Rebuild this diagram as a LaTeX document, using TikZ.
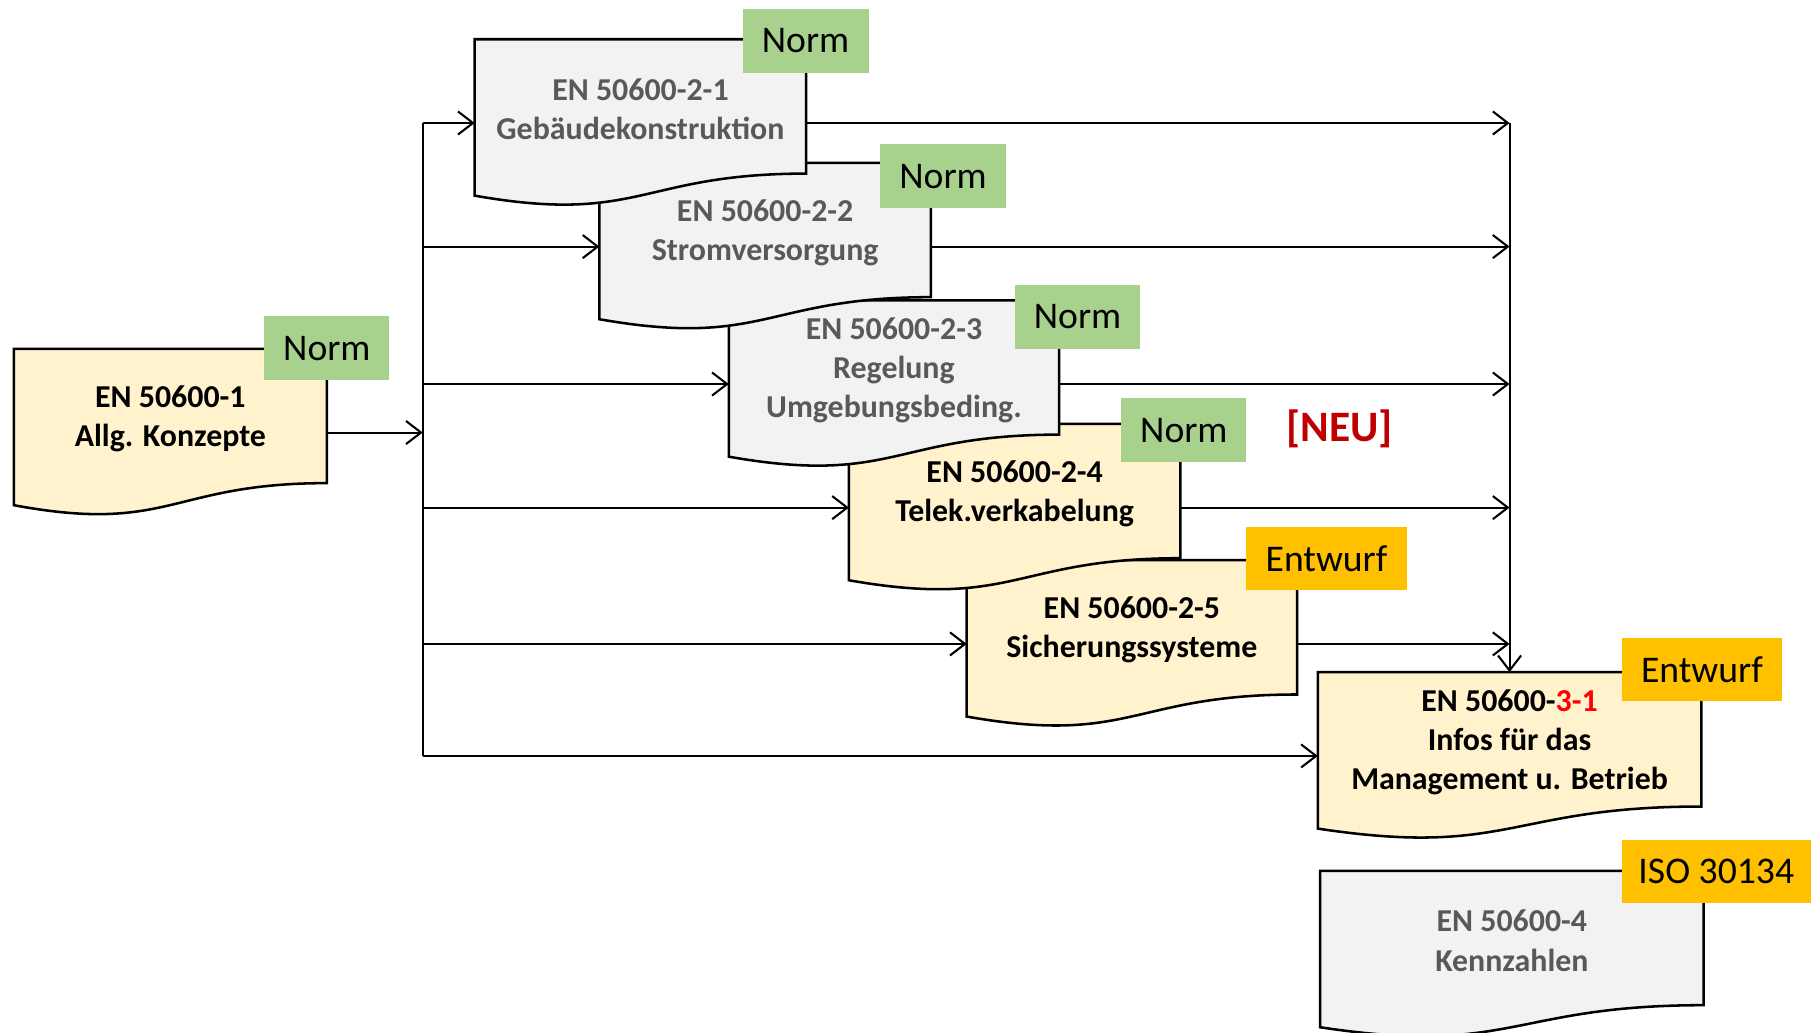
\documentclass[tikz,border=0pt]{standalone}
\usepackage{fontspec}
\setmainfont{Carlito}
\usetikzlibrary{arrows.meta}

\definecolor{docyellow}{HTML}{FFF2CC}
\definecolor{docgray}{HTML}{F2F2F2}
\definecolor{graytext}{HTML}{595959}
\definecolor{normgreen}{HTML}{A9D18E}
\definecolor{draftgold}{HTML}{FFC000}
\definecolor{newred}{HTML}{C00000}
\definecolor{partred}{HTML}{FF0000}

\tikzset{
  docframe/.style={inner sep=0pt, outer sep=0pt, minimum height=72.5pt},
  docline/.style={line width=1.1pt, draw=black, line join=miter},
  doctext/.style={align=center, inner sep=0pt,
    font=\bfseries\fontsize{13.8}{16.9}\selectfont},
  tag/.style={inner sep=0pt, outer sep=0pt, minimum height=27.5pt,
    font=\fontsize{16.3}{18}\selectfont},
  link/.style={line width=0.9pt, draw=black},
  flow/.style={link, -{Straight Barb[length=6.5pt,width=10pt]}},
}

% document sheet: name, left x, top y, width, fill colour
\newcommand\docsheet[5]{%
  \node[docframe, minimum width=#4*0.5pt, anchor=north west] (#1) at (#2,#3) {};
  \filldraw[docline, fill=#5] (#1.north west) -- (#1.north east)
    -- ([yshift=-58.15pt]#1.north east)
    .. controls ([yshift=-58.15pt]#1.north) and ([yshift=-80.3pt]#1.north)
    .. ([yshift=-67.7pt]#1.north west) -- cycle;
}

\begin{document}
\begin{tikzpicture}[x=0.5pt, y=-0.5pt]
\useasboundingbox (0,0) rectangle (1568,894);

% general concepts
\docsheet{d1}{12}{302}{271}{docyellow}
\node[doctext] (d1t) at ([yshift=6pt]d1.center) {EN 50600-1\\Allg. Konzepte};

% part 2 sheets, lowest first so the upper ones overlap them
\docsheet{d25}{837}{485}{286}{docyellow}
\node[doctext] (d25t) at ([yshift=6pt]d25.center) {EN 50600-2-5\\Sicherungssysteme};
\docsheet{d24}{735}{367}{287}{docyellow}
\node[doctext] (d24t) at ([yshift=6pt]d24.center) {EN 50600-2-4\\Telek.verkabelung};
\docsheet{d23}{631}{260}{286}{docgray}
\node[doctext, text=graytext] (d23t) at ([yshift=6pt]d23.center) {EN 50600-2-3\\Regelung\\Umgebungsbeding.};
\docsheet{d22}{519}{141}{287}{docgray}
\node[doctext, text=graytext] (d22t) at ([yshift=6pt]d22.center) {EN 50600-2-2\\Stromversorgung};
\docsheet{d21}{411}{34}{287}{docgray}
\node[doctext, text=graytext] (d21t) at ([yshift=6pt]d21.center) {EN 50600-2-1\\Gebäudekonstruktion};

% part 3 and part 4
\docsheet{d31}{1141}{582}{332}{docyellow}
\node[doctext] (d31t) at ([yshift=6pt]d31.center) {EN 50600-\textcolor{partred}{3-1}\\Infos für das\\Management u. Betrieb};
\docsheet{d4}{1143}{754}{332}{docgray}
\node[doctext, text=graytext] (d4t) at ([yshift=6pt]d4.center) {EN 50600-4\\Kennzahlen};

% status tags
\node[tag, fill=normgreen, minimum width=54pt] (t1) at (283,301.5) {Norm};
\node[tag, fill=normgreen, minimum width=54.5pt] (t21) at (697.5,35.5) {Norm};
\node[tag, fill=normgreen, minimum width=54.5pt] (t22) at (816.5,152.5) {Norm};
\node[tag, fill=normgreen, minimum width=54pt] (t23) at (933,274.5) {Norm};
\node[tag, fill=normgreen, minimum width=54pt] (t24) at (1025,372.5) {Norm};
\node[tag, fill=draftgold, minimum width=69.5pt] (t25) at (1148.5,483.5) {Entwurf};
\node[tag, fill=draftgold, minimum width=69.5pt] (t31) at (1473.5,579.5) {Entwurf};
\node[tag, fill=draftgold, minimum width=82pt] (t4) at (1486,754.5) {ISO 30134};

\node[font=\bfseries\fontsize{18.8}{20}\selectfont, text=newred] (neu) at (1160,371) {[NEU]};

% distribution trunk on the left
\coordinate (lt) at (366,0);
\draw[flow] (d1.east) -- (d1.east -| lt);
\draw[link] (d21.west -| lt) -- (d31.west -| lt);
\draw[flow] (d21.west -| lt) -- (d21.west);
\draw[flow] (d22.west -| lt) -- (d22.west);
\draw[flow] (d23.west -| lt) -- (d23.west);
\draw[flow] (d24.west -| lt) -- (d24.west);
\draw[flow] (d25.west -| lt) -- (d25.west);
\draw[flow] (d31.west -| lt) -- (d31.west);

% collecting trunk on the right
\draw[flow] (d21.east -| d31.north) -- (d31.north);
\draw[flow] (d21.east) -- (d21.east -| d31.north);
\draw[flow] (d22.east) -- (d22.east -| d31.north);
\draw[flow] (d23.east) -- (d23.east -| d31.north);
\draw[flow] (d24.east) -- (d24.east -| d31.north);
\draw[flow] (d25.east) -- (d25.east -| d31.north);
\end{tikzpicture}
\end{document}
